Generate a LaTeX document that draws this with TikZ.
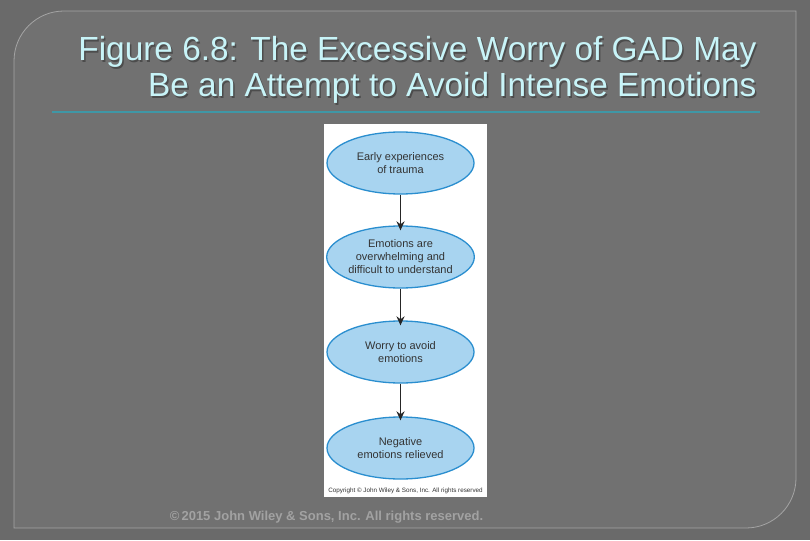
\documentclass[tikz,border=0pt]{standalone}
\usepackage{fontspec}
\setmainfont{Liberation Sans}
\usetikzlibrary{shapes.geometric,arrows.meta}
\definecolor{outerbg}{HTML}{6A6A6A}
\definecolor{panelbg}{HTML}{717171}
\definecolor{panelline}{HTML}{A4A4A4}
\definecolor{titlecol}{HTML}{C8F4F8}
\definecolor{rulecol}{HTML}{3F97A6}
\definecolor{footcol}{HTML}{A2A2A2}
\definecolor{ellfill}{HTML}{A8D4F0}
\definecolor{elldraw}{HTML}{2A8ECF}
\definecolor{elltext}{HTML}{333333}
\tikzset{
  stage/.style={ellipse, draw=elldraw, line width=1.3pt, fill=ellfill,
    minimum width=147pt, minimum height=62pt, inner sep=0pt,
    align=center, font=\fontsize{11}{13}\selectfont, text=elltext},
  flowarrow/.style={-{Stealth[length=9pt,width=8pt]}, line width=1.8pt, black!85},
  titletext/.style={anchor=base east, font=\fontsize{33.4}{36}\selectfont},
}
\begin{document}
\begin{tikzpicture}[x=1pt,y=-1pt]
  \fill[outerbg] (0,0) rectangle (810,540);
  \useasboundingbox (0,0) rectangle (810,540);
  % panel
  \filldraw[fill=panelbg, draw=panelline, line width=0.8pt]
    (14,528) -- (14,61) .. controls (14,33.4) and (36.4,11) .. (64,11)
    -- (796,11) -- (796,478) .. controls (796,505.6) and (773.6,528) .. (746,528) -- cycle;
  % title
  \node[titletext, text=black!70] (t1s) at (761.5,62.5) {Figure 6.8: The Excessive Worry of GAD May};
  \node[titletext, text=black!70] (t2s) at (761.5,98.5) {Be an Attempt to Avoid Intense Emotions};
  \node[titletext, text=titlecol] (t1) at (760,61) {Figure 6.8: The Excessive Worry of GAD May};
  \node[titletext, text=titlecol] (t2) at (760,97) {Be an Attempt to Avoid Intense Emotions};
  \coordinate (r1) at (52,112);
  \coordinate (r2) at (760,112);
  \draw[rulecol, line width=1.2pt] (r1) -- (r2);
  % figure
  \fill[white] (324,124) rectangle (487,497);
  \node[stage] (e1) at (400.5,163) {Early experiences\\of trauma};
  \node[stage] (e2) at (400.5,257) {Emotions are\\overwhelming and\\difficult to understand};
  \node[stage] (e3) at (400.5,352) {Worry to avoid\\emotions};
  \node[stage] (e4) at (400.5,448) {Negative\\emotions relieved};
  \draw[flowarrow] (e1.south) -- ([yshift=-5pt]e2.north);
  \draw[flowarrow] (e2.south) -- ([yshift=-5pt]e3.north);
  \draw[flowarrow] (e3.south) -- ([yshift=-4pt]e4.north);
  \node[font=\fontsize{6.3}{7}\selectfont, text=black!80] (cp) at (405.5,491) {Copyright \textcopyright\ John Wiley \& Sons, Inc. All rights reserved};
  % footer
  \node[anchor=base, font=\bfseries\fontsize{13}{15}\selectfont, text=footcol] (ft) at (326.5,520) {\textcopyright\,2015 John Wiley \& Sons, Inc. All rights reserved.};
\end{tikzpicture}
\end{document}
